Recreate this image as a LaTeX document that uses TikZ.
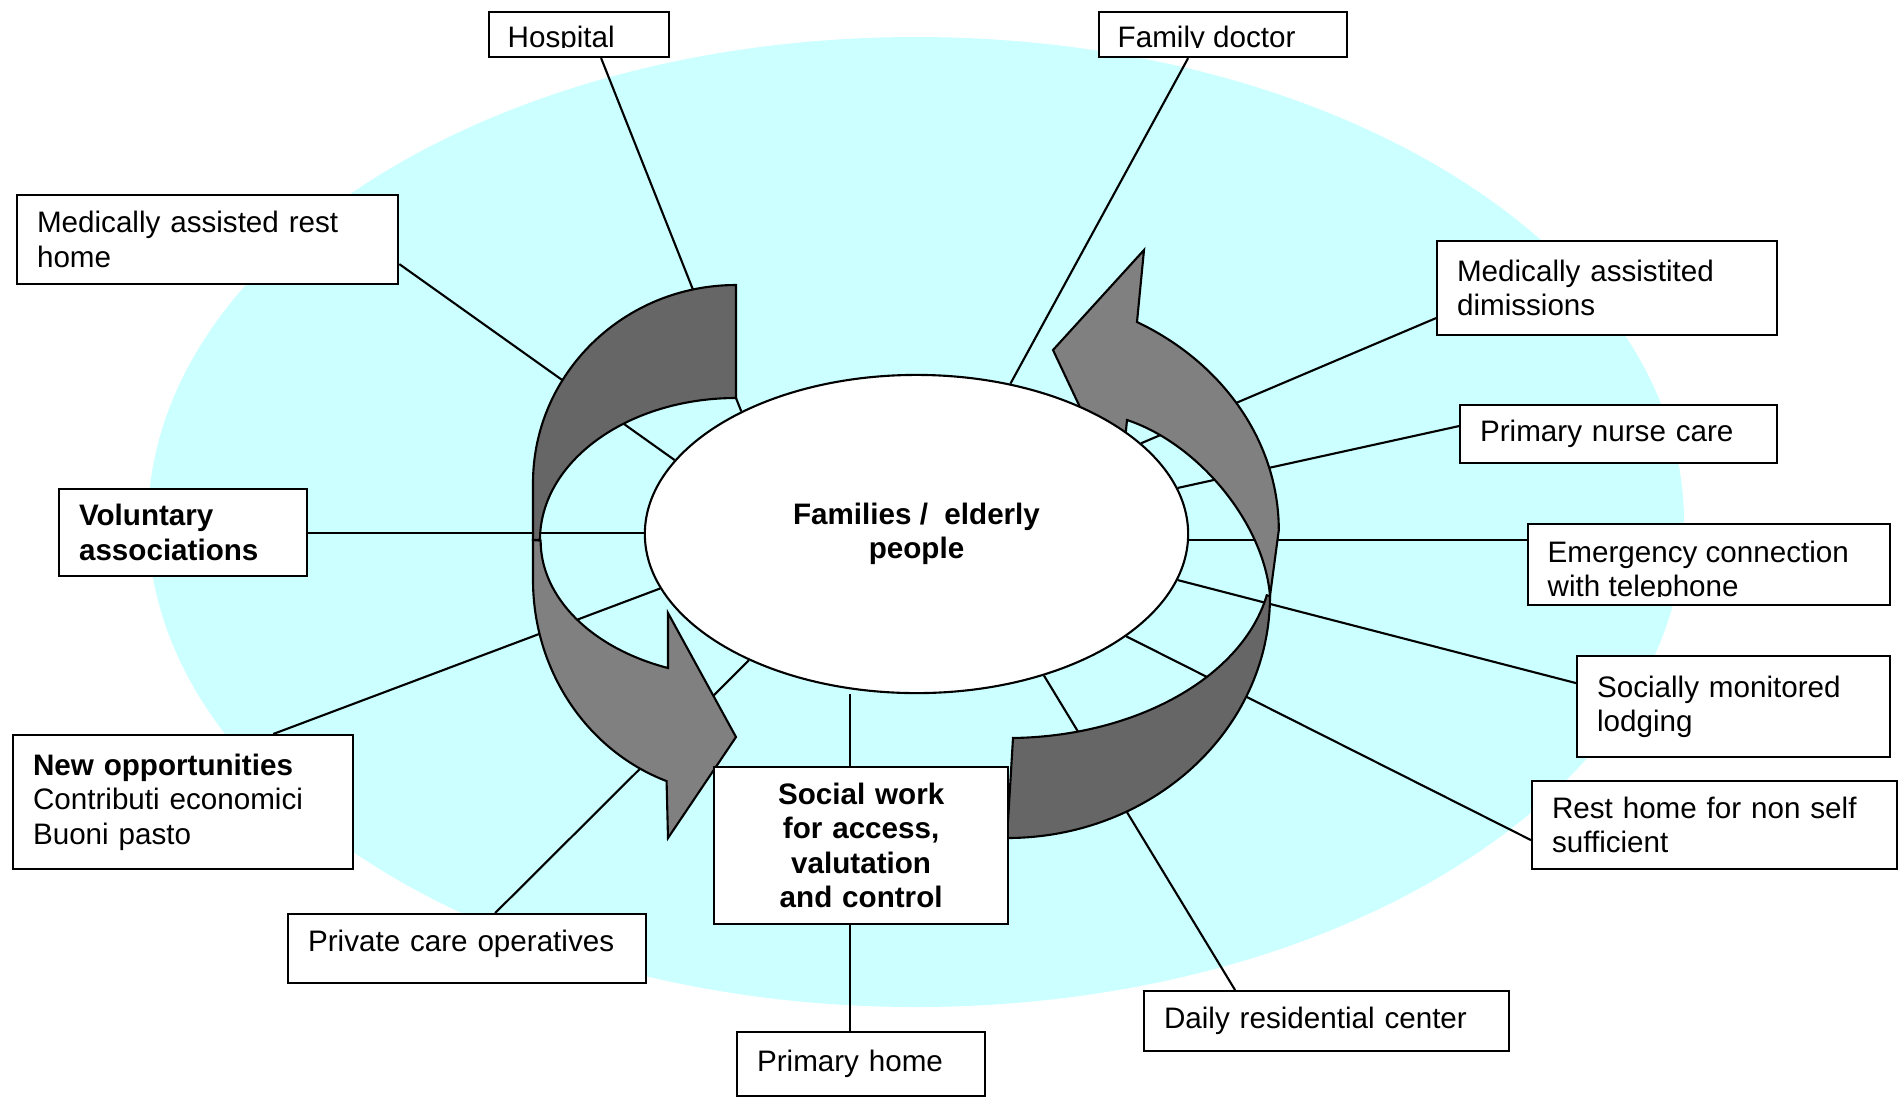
\documentclass[tikz,border=0pt]{standalone}
\usepackage{fontspec}
\setmainfont{Liberation Sans}
\usetikzlibrary{shapes.geometric}
\pgfdeclarelayer{bglayer}
\pgfdeclarelayer{midlayer}
\pgfsetlayers{bglayer,midlayer,main}
\definecolor{bgcyan}{HTML}{CCFFFF}
\definecolor{arrdk}{HTML}{666666}
\definecolor{arrlt}{HTML}{808080}
\newcommand\txtfont{\fontsize{8.42pt}{9.8pt}\selectfont}
\begin{document}
\begin{tikzpicture}[x=0.01cm,y=-0.01cm,
  box/.style={draw, fill=white, line width=0.6pt, inner xsep=0.2cm, inner ysep=0pt, anchor=north west, align=left, font=\txtfont},
  conn/.style={line width=0.6pt},
  arrdark/.style={fill=arrdk, draw=black, line width=0.6pt, line join=miter},
  arrlight/.style={fill=arrlt, draw=black, line width=0.6pt, line join=miter},
  txt/.style={font=\txtfont, inner sep=0pt}]

\useasboundingbox (0,0) rectangle (1902,1102);

% central ellipse
\node[ellipse, draw, fill=white, line width=0.6pt, minimum width=5.43cm, minimum height=3.18cm, inner sep=0pt, align=center, font=\txtfont\bfseries] (fam) at (916.5,534) {Families /~ elderly\\people};

% boxes
\node[box, minimum width=1.80cm, minimum height=0.45cm] (hosp) at (488,11) {};
\node[box, minimum width=2.48cm, minimum height=0.45cm] (famdoc) at (1098,11) {};
\node[box, minimum width=3.81cm, minimum height=0.89cm, text width=3.41cm] (medrest) at (16,194) {Medically assisted rest\\home};
\node[box, minimum width=3.40cm, minimum height=0.94cm, text width=3.00cm] (meddim) at (1436,240) {Medically assistited\\dimissions};
\node[box, minimum width=3.17cm, minimum height=0.58cm, text width=2.77cm] (nurse) at (1459,404) {Primary nurse care};
\node[box, minimum width=2.48cm, minimum height=0.87cm, text width=2.08cm, font=\txtfont\bfseries] (volun) at (58,488) {Voluntary\\associations};
\node[box, minimum width=3.62cm, minimum height=0.81cm] (emerg) at (1527,523) {};
\node[box, minimum width=3.13cm, minimum height=1.01cm, text width=2.73cm] (lodging) at (1576,655) {Socially monitored\\lodging};
\node[box, minimum width=3.40cm, minimum height=1.34cm, text width=3.00cm] (newopp) at (12,734) {\textbf{New opportunities}\\Contributi economici\\Buoni pasto};
\node[box, minimum width=3.65cm, minimum height=0.88cm, text width=3.25cm] (resthome) at (1531,780) {Rest home for non self\\sufficient};
\node[box, minimum width=2.94cm, minimum height=1.57cm, text width=2.54cm, align=center, font=\txtfont\bfseries] (social) at (713,766) {Social work\\for access,\\valutation\\and control};
\node[box, minimum width=3.58cm, minimum height=0.69cm, text width=3.18cm, text depth=4.6pt] (private) at (287,913) {Private care operatives};
\node[box, minimum width=2.48cm, minimum height=0.64cm, text width=2.08cm] (primhome) at (736,1031) {Primary home};
\node[box, minimum width=3.65cm, minimum height=0.60cm, text width=3.25cm] (daily) at (1143,990) {Daily residential center};

% clipped texts
\begin{scope}
  \clip (hosp.north west) rectangle ([yshift=-0.36cm]hosp.north east);
  \node[txt, anchor=base west] (hospt) at (507,47) {Hospital};
\end{scope}
\begin{scope}
  \clip (famdoc.north west) rectangle ([yshift=-0.36cm]famdoc.north east);
  \node[txt, anchor=base west] (famdoct) at (1117,47) {Family doctor};
\end{scope}
\begin{scope}
  \clip (emerg.north west) rectangle ([yshift=-0.73cm]emerg.north east);
  \node[txt, anchor=base west] (emergta) at (1547,562) {Emergency connection};
  \node[txt, anchor=base west] (emergtb) at (1547,596) {with telephone};
\end{scope}

% background and connectors
\begin{pgfonlayer}{bglayer}
  \fill[bgcyan] (916,522) ellipse[x radius=768, y radius=485];
  \draw[conn] ([xshift=0.22cm]hosp.south) -- (fam.145.2);
  \draw[conn] ([xshift=-0.35cm]famdoc.south) -- (fam.58);
  \draw[conn] ([yshift=-0.245cm]medrest.east) -- (fam.163.5);
  \draw[conn] (volun.east) -- (volun.east -| fam.west);
  \draw[conn] ([xshift=0.9cm]newopp.north) -- (fam.192.5);
  \draw[conn] ([xshift=0.28cm]private.north) -- (fam.217.1);
  \draw[conn] ([xshift=-0.11cm]social.north) -- ([xshift=-0.11cm]social.north |- fam.south);
  \draw[conn] ([xshift=-0.11cm]social.south) -- ([xshift=-0.11cm]social.south |- primhome.north);
  \draw[conn] ([xshift=0.92cm]daily.north west) -- (fam.312);
  \draw[conn] ([yshift=-0.15cm]resthome.west) -- (fam.334.9);
  \draw[conn] ([yshift=0.235cm]lodging.west) -- (fam.350.7);
  \draw[conn] ([yshift=0.245cm]emerg.west) -- ([yshift=0.245cm]emerg.west -| fam.center);
  \draw[conn] ([yshift=0.08cm]nurse.west) -- (fam.10.44);
  \draw[conn] ([yshift=-0.30cm]meddim.west) -- (fam.22.16);
\end{pgfonlayer}

% curved arrows
\begin{pgfonlayer}{midlayer}
  % left arrow
  \filldraw[arrdark] (736,285) arc[start angle=270,end angle=180,x radius=203,y radius=198]
     -- (533,540) -- (540,540) arc[start angle=180,end angle=270,x radius=196,y radius=142] -- cycle;
  \filldraw[arrlight] (533,540) -- (533,580) arc[start angle=180,end angle=110,x radius=203,y radius=214]
     -- (668,838) -- (736,737) -- (668,613) -- (668,668)
     arc[start angle=110.5,end angle=180,x radius=196,y radius=136] -- cycle;
  % right arrow
  \filldraw[arrdark] (1270,596) arc[start angle=0,end angle=90,x radius=263,y radius=242]
     -- (1013,738) arc[start angle=88.7,end angle=11.4,x radius=265,y radius=178] -- cycle;
  \filldraw[arrlight] (1127,420) -- (1120,492) -- (1053,350) -- (1144,250) -- (1137,322)
     arc[start angle=298.6,end angle=360,x radius=272,y radius=237]
     -- (1270,596) .. controls (1264,522) and (1197,443) .. (1127,420) -- cycle;
\end{pgfonlayer}
\end{tikzpicture}
\end{document}
